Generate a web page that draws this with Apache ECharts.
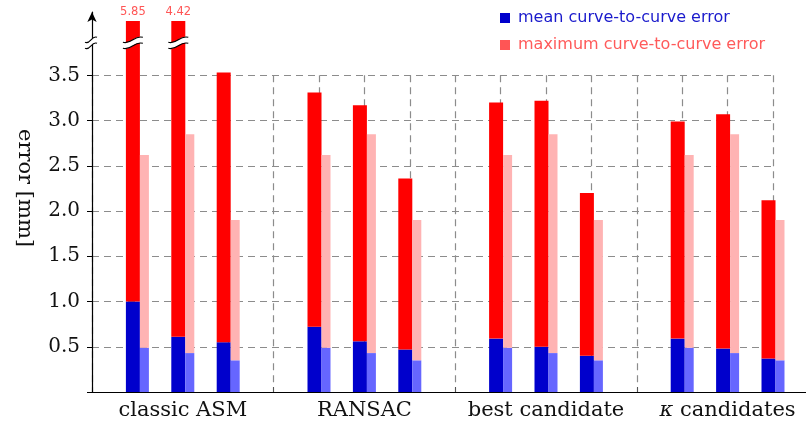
<!DOCTYPE html>
<html>
<head>
<meta charset="utf-8">
<script src="https://cdn.jsdelivr.net/npm/echarts@6/dist/echarts.min.js"></script>
<style>html,body{margin:0;padding:0;background:#fff}#c{width:806px;height:428px}</style>
</head>
<body>
<div id="c"></div>
<script>
// ---- data ----
const groups = ['classic ASM', 'RANSAC', 'best candidate', 'κ candidates'];
const meanErr = [
  [1.00, 0.61, 0.55],
  [0.72, 0.56, 0.47],
  [0.59, 0.50, 0.40],
  [0.59, 0.48, 0.37]
];
const maxErr = [
  [5.85, 4.42, 3.53],
  [3.31, 3.17, 2.36],
  [3.20, 3.22, 2.20],
  [2.99, 3.07, 2.12]
];
const refMean = [0.49, 0.43, 0.35];
const refMax = [2.62, 2.85, 1.90];
const yTicks = [0.5, 1.0, 1.5, 2.0, 2.5, 3.0, 3.5];
const Y_CAP = 4.1;        // drawn height of bars that exceed the broken axis
const BREAK_AT = 3.86;    // where the axis break mark sits
const GRID_TOP_VALUE = 3.5;
const Y_MAX = 4.2;

// ---- layout ----
const W = 806, H = 428;
const PLOT_LEFT = 92, PLOT_BOTTOM = 36, PLOT_TOP = 12;
const SLOT_PX = 45.4, SLOTS = 15;
const DARK_W = 14, LIGHT_W = 9;
const DARK_OFFSET = -(DARK_W + LIGHT_W) / 2 + DARK_W / 2;
const pxPerUnit = (H - PLOT_BOTTOM - PLOT_TOP) / Y_MAX;
const lineGridTop = H - PLOT_BOTTOM - GRID_TOP_VALUE * pxPerUnit;
const lineGridRight = W - (PLOT_LEFT + SLOTS * SLOT_PX);
const mainXMax = (W - PLOT_LEFT) / SLOT_PX;

const pairX = (g, m) => g * 4 + m + 1;
const groupX = g => g * 4 + 2;

const slots = Array.from({ length: SLOTS + 1 }, (_, i) => String(i));
const empty = () => slots.map(() => '-');
const darkMean = empty(), darkRest = empty(), lightMean = empty(), lightRest = empty();
const breaks = [[0, BREAK_AT]];
groups.forEach((_, g) => {
  meanErr[g].forEach((v, m) => {
    const x = pairX(g, m);
    const mx = maxErr[g][m];
    const capped = mx > Y_CAP;
    darkMean[x] = v;
    darkRest[x] = {
      value: +(Math.min(mx, Y_CAP) - v).toFixed(4),
      label: { show: capped, formatter: mx.toFixed(2) }
    };
    if (capped) breaks.push([x, BREAK_AT]);
    lightMean[x] = refMean[m];
    lightRest[x] = +(refMax[m] - refMean[m]).toFixed(4);
  });
});

const chart = echarts.init(document.getElementById('c'), null, { renderer: 'canvas' });
const dash = { color: '#8c8c8c', width: 1.2, type: [7, 5] };

function renderBreak(params, api) {
  const x = api.value(0), y = api.value(1);
  const p = api.coord([x, y]);
  const isAxis = x === 0;
  const cx = isAxis ? p[0] - 1 : p[0] + DARK_OFFSET;
  const w = isAxis ? 6 : 10;
  const cy = p[1];
  const g = 3;
  const curve = (y0) => ({
    x1: cx - w, y1: y0 + 2.5,
    cpx1: cx - w * 0.1, cpy1: y0 + 5,
    cpx2: cx + w * 0.1, cpy2: y0 - 5,
    x2: cx + w, y2: y0 - 2.5
  });
  const t = curve(cy - g), b = curve(cy + g);
  const fillPath = `M${t.x1} ${t.y1} C${t.cpx1} ${t.cpy1} ${t.cpx2} ${t.cpy2} ${t.x2} ${t.y2} L${b.x2} ${b.y2} C${b.cpx2} ${b.cpy2} ${b.cpx1} ${b.cpy1} ${b.x1} ${b.y1} Z`;
  return {
    type: 'group',
    children: [
      { type: 'path', shape: { pathData: fillPath }, style: { fill: '#fff', stroke: null } },
      { type: 'bezierCurve', shape: t, style: { stroke: '#000', lineWidth: 1.1, fill: null } },
      { type: 'bezierCurve', shape: b, style: { stroke: '#000', lineWidth: 1.1, fill: null } }
    ]
  };
}

const barBase = { type: 'bar', xAxisIndex: 2, yAxisIndex: 2, barGap: '0%', clip: false };

const option = {
  animation: false,
  backgroundColor: '#fff',
  grid: [
    { left: PLOT_LEFT, right: 0, top: PLOT_TOP, bottom: PLOT_BOTTOM },
    { left: PLOT_LEFT, right: lineGridRight, top: lineGridTop, bottom: PLOT_BOTTOM },
    { left: PLOT_LEFT, right: lineGridRight, top: PLOT_TOP, bottom: PLOT_BOTTOM }
  ],
  xAxis: [
    {
      type: 'value', gridIndex: 0, min: 0, max: mainXMax,
      axisLine: { show: true, lineStyle: { color: '#000', width: 1.2 } },
      axisTick: { show: true, customValues: [4, 8, 12], inside: true, length: 5, lineStyle: { color: '#555' } },
      axisLabel: {
        show: true, customValues: groups.map((_, g) => groupX(g)),
        formatter: v => {
          const name = groups[Math.round((v - 2) / 4)] || '';
          return name.replace('κ', '{k|κ}');
        },
        fontFamily: 'DejaVu Serif', fontSize: 21, color: '#111', margin: 8,
        rich: { k: { fontFamily: 'DejaVu Serif', fontStyle: 'italic', fontSize: 21, color: '#111' } }
      },
      splitLine: { show: false }
    },
    {
      type: 'value', gridIndex: 1, min: 0, max: SLOTS, interval: 1,
      axisLine: { show: false }, axisTick: { show: false }, axisLabel: { show: false },
      splitLine: { show: true, lineStyle: dash }
    },
    {
      type: 'category', gridIndex: 2, data: slots, boundaryGap: false,
      axisLine: { show: false }, axisTick: { show: false }, axisLabel: { show: false },
      splitLine: { show: false }
    }
  ],
  yAxis: [
    {
      type: 'value', gridIndex: 0, min: 0, max: Y_MAX,
      axisLine: { show: true, symbol: ['none', 'arrow'], symbolSize: [7, 10], lineStyle: { color: '#000', width: 1.2 } },
      axisTick: { show: true, customValues: [0].concat(yTicks), length: 5, lineStyle: { color: '#000' } },
      axisLabel: {
        show: true, customValues: yTicks, formatter: v => v.toFixed(1),
        fontFamily: 'DejaVu Serif', fontSize: 20, color: '#111', margin: 12
      },
      splitLine: { show: false }
    },
    {
      type: 'value', gridIndex: 1, min: 0, max: GRID_TOP_VALUE, interval: 0.5,
      axisLine: { show: false }, axisTick: { show: false }, axisLabel: { show: false },
      splitLine: { show: true, lineStyle: dash }
    },
    {
      type: 'value', gridIndex: 2, min: 0, max: Y_MAX,
      axisLine: { show: false }, axisTick: { show: false }, axisLabel: { show: false },
      splitLine: { show: false }
    }
  ],
  legend: {
    orient: 'vertical', left: 495, top: 5, itemWidth: 10, itemHeight: 10, itemGap: 11,
    icon: 'rect', selectedMode: false,
    textStyle: { fontFamily: 'DejaVu Sans', fontSize: 16, padding: [0, 0, 0, 3] },
    data: [
      { name: 'mean curve-to-curve error', itemStyle: { color: '#0000cc' }, textStyle: { color: '#1a1acc' } },
      { name: 'maximum curve-to-curve error', itemStyle: { color: '#ff5555' }, textStyle: { color: '#ff5a5a' } }
    ]
  },
  graphic: [{
    type: 'text', x: 24, y: 188, rotation: -Math.PI / 2,
    style: { text: 'error [mm]', font: '21px "DejaVu Serif"', fill: '#111', align: 'center', verticalAlign: 'middle' }
  }],
  series: [
    Object.assign({}, barBase, {
      name: 'mean curve-to-curve error', stack: 'dark', barWidth: DARK_W, data: darkMean,
      itemStyle: { color: '#0000cc' }
    }),
    Object.assign({}, barBase, {
      name: 'maximum curve-to-curve error', stack: 'dark', barWidth: DARK_W, data: darkRest,
      itemStyle: { color: '#ff0000' },
      label: { show: false, position: 'top', distance: 3, color: '#ff5555', fontFamily: 'DejaVu Sans', fontSize: 11.5 }
    }),
    Object.assign({}, barBase, {
      name: 'reference mean', stack: 'light', barWidth: LIGHT_W, data: lightMean,
      itemStyle: { color: '#6666ff' }
    }),
    Object.assign({}, barBase, {
      name: 'reference maximum', stack: 'light', barWidth: LIGHT_W, data: lightRest,
      itemStyle: { color: '#ffb3b3' }
    }),
    {
      name: 'breaks', type: 'custom', xAxisIndex: 0, yAxisIndex: 0, z: 5,
      data: breaks, renderItem: renderBreak, silent: true
    }
  ]
};
chart.setOption(option);
</script>
</body>
</html>
